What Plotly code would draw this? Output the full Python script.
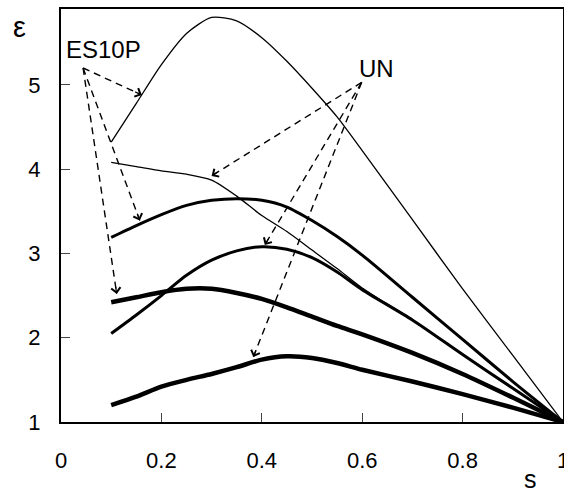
import plotly.graph_objects as go
import math

# ---- data ----
s = [0.1, 0.15, 0.2, 0.25, 0.3, 0.35, 0.4, 0.45, 0.5, 0.55, 0.6, 0.7, 0.8, 0.9, 1.0]

es10p_thin = [4.32, 4.78, 5.24, 5.61, 5.80, 5.76, 5.56, 5.28, 4.96, 4.62, 4.22, 3.40, 2.58, 1.79, 1.00]
un_thin    = [4.08, 4.03, 3.98, 3.94, 3.87, 3.68, 3.45, 3.26, 3.04, 2.82, 2.59, 2.21, 1.80, 1.40, 1.00]
es10p_mid  = [3.19, 3.33, 3.46, 3.57, 3.63, 3.65, 3.63, 3.55, 3.39, 3.20, 2.98, 2.48, 1.98, 1.48, 1.00]
un_mid     = [2.05, 2.27, 2.50, 2.74, 2.92, 3.03, 3.08, 3.05, 2.95, 2.78, 2.57, 2.21, 1.80, 1.40, 1.00]
es10p_thick= [2.42, 2.48, 2.54, 2.58, 2.58, 2.53, 2.46, 2.36, 2.25, 2.14, 2.04, 1.82, 1.57, 1.29, 1.00]
un_thick   = [1.20, 1.30, 1.42, 1.50, 1.57, 1.65, 1.74, 1.78, 1.76, 1.70, 1.62, 1.48, 1.33, 1.17, 1.00]

x_ticks = [0, 0.2, 0.4, 0.6, 0.8, 1]
x_ticktext = ["0", "0.2", "0.4", "0.6", "0.8", "1"]
y_ticks = [1, 2, 3, 4, 5]

# annotation labels and arrows (data coordinates)
es_label = ("ES10P", 0.084, 5.42)
un_label = ("UN", 0.629, 5.19)
es_origin = (0.044, 5.20)
un_origin = (0.599, 5.03)
es_tips = [(0.161, 4.88), (0.157, 3.39), (0.111, 2.52)]
un_tips = [(0.300, 3.92), (0.406, 3.10), (0.383, 1.77)]

# ---- layout constants ----
W, H = 564, 492
ML, MR, MT, MB = 61, 1, 9, 70
XR = [0, 1]
YR = [1, 5.9]
pxx = (W - ML - MR) / (XR[1] - XR[0])
pxy = (H - MT - MB) / (YR[1] - YR[0])

FONT = "Liberation Sans, Arial, sans-serif"

fig = go.Figure()

series = [
    (es10p_thin, 1.3),
    (un_thin, 1.3),
    (es10p_mid, 3.0),
    (un_mid, 3.0),
    (es10p_thick, 4.5),
    (un_thick, 4.5),
]
for ys, w in series:
    fig.add_trace(go.Scatter(x=s, y=ys, mode="lines",
                             line=dict(color="black", width=w, shape="spline", smoothing=0.7),
                             showlegend=False, hoverinfo="skip"))

annotations = []
shapes = []

def add_arrow(origin, tip):
    ox, oy = origin
    tx, ty = tip
    shapes.append(dict(type="line", xref="x", yref="y", x0=ox, y0=oy, x1=tx, y1=ty,
                       line=dict(color="black", width=1.4, dash="7px,5px")))
    dxp = (ox - tx) * pxx
    dyp = -(oy - ty) * pxy
    L = math.hypot(dxp, dyp)
    annotations.append(dict(x=tx, y=ty, xref="x", yref="y", text="",
                            showarrow=True, arrowhead=4, arrowsize=1.5, arrowwidth=1.2,
                            arrowcolor="black",
                            ax=9 * dxp / L, ay=9 * dyp / L))

for t in es_tips:
    add_arrow(es_origin, t)
for t in un_tips:
    add_arrow(un_origin, t)

for txt, xx, yy in (es_label, un_label):
    annotations.append(dict(x=xx, y=yy, xref="x", yref="y", text=txt, showarrow=False,
                            font=dict(family=FONT, size=24, color="black"),
                            xanchor="center", yanchor="middle"))

# axis titles
annotations.append(dict(x=(19 - ML) / (W - ML - MR), y=(H - MB - 27) / (H - MT - MB),
                        xref="paper", yref="paper", text="ε", showarrow=False,
                        font=dict(family=FONT, size=29, color="black"),
                        xanchor="center", yanchor="middle"))
annotations.append(dict(x=(530 - ML) / (W - ML - MR), y=(H - MB - 479) / (H - MT - MB),
                        xref="paper", yref="paper", text="s", showarrow=False,
                        font=dict(family=FONT, size=25, color="black"),
                        xanchor="center", yanchor="middle"))

fig.update_layout(
    width=W, height=H,
    margin=dict(l=ML, r=MR, t=MT, b=MB),
    paper_bgcolor="white", plot_bgcolor="white",
    shapes=shapes, annotations=annotations,
    showlegend=False,
    xaxis=dict(range=XR, tickvals=x_ticks, ticktext=x_ticktext,
               ticks="inside", ticklen=9, tickwidth=1, tickcolor="#444",
               showline=True, linecolor="black", linewidth=2, mirror=True,
               showgrid=False, zeroline=False, automargin=False,
               ticklabelstandoff=18, ticklabeloverflow="allow",
               tickfont=dict(family=FONT, size=22, color="black")),
    yaxis=dict(range=YR, tickvals=y_ticks,
               ticks="inside", ticklen=9, tickwidth=1, tickcolor="#444",
               showline=True, linecolor="black", linewidth=2, mirror=True,
               showgrid=False, zeroline=False, automargin=False,
               ticklabelstandoff=14,
               tickfont=dict(family=FONT, size=22, color="black")),
)

fig.write_html("out.html")
